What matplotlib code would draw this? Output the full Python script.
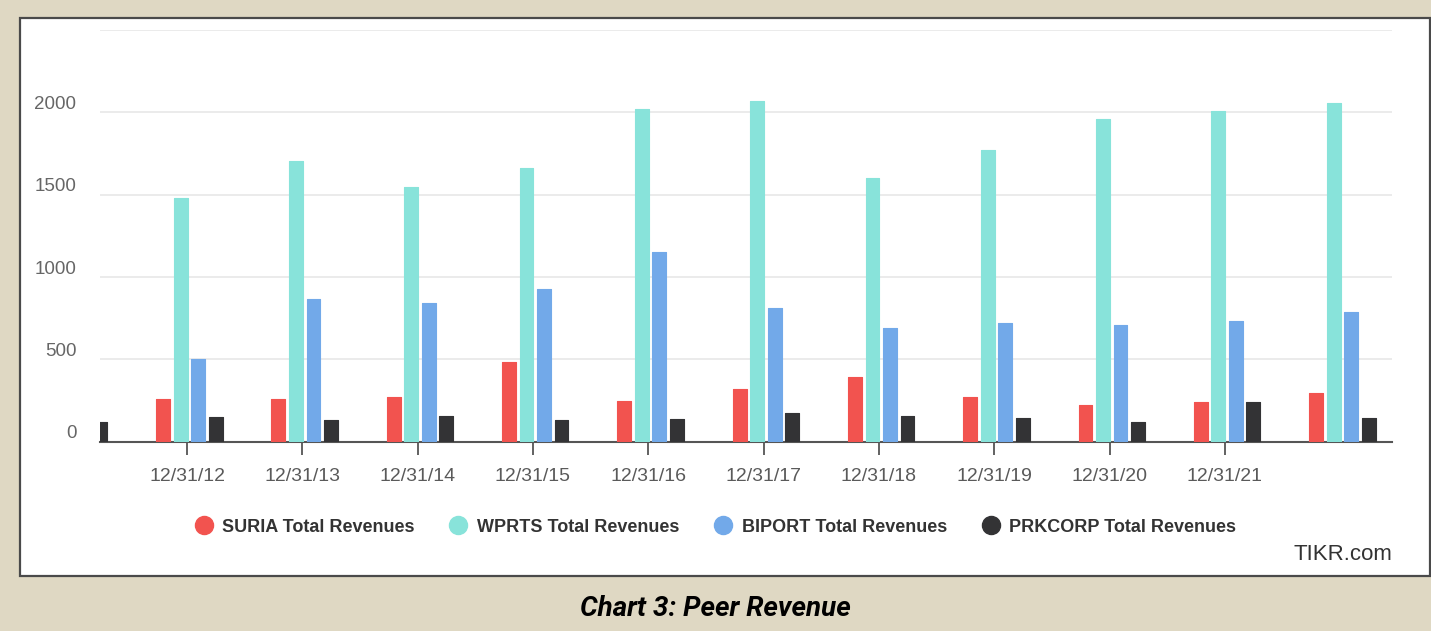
import numpy as np
import matplotlib
matplotlib.use("Agg")
import matplotlib.pyplot as plt
from matplotlib.patches import Rectangle
from matplotlib.transforms import ScaledTranslation

# periods shown in the TIKR chart (first one is clipped at the left, last is LTM)
periods = ['12/31/11', '12/31/12', '12/31/13', '12/31/14', '12/31/15', '12/31/16',
           '12/31/17', '12/31/18', '12/31/19', '12/31/20', '12/31/21', 'LTM']
tick_labels = ['12/31/12', '12/31/13', '12/31/14', '12/31/15', '12/31/16',
               '12/31/17', '12/31/18', '12/31/19', '12/31/20', '12/31/21']

suria = [np.nan, 260, 260, 270, 487, 250, 321, 390, 270, 223, 243, 298]
wprts = [np.nan, 1481, 1704, 1548, 1664, 2023, 2069, 1603, 1769, 1962, 2009, 2054]
biport = [np.nan, 503, 868, 842, 928, 1150, 809, 690, 720, 710, 730, 785]
prkcorp = [122, 152, 132, 158, 132, 138, 177, 156, 142, 122, 243, 142]

series_names = ['SURIA Total Revenues', 'WPRTS Total Revenues',
                'BIPORT Total Revenues', 'PRKCORP Total Revenues']
colors = ['#f2534f', '#88e3da', '#72a9e9', '#333335']

plt.rcParams['font.family'] = ['Liberation Sans', 'DejaVu Sans']

fig = plt.figure(figsize=(14.31, 6.31), dpi=100)
fig.patch.set_facecolor('#dfd8c3')

# white panel with dark border
W, H = 1431, 631
panel = Rectangle((20 / W, (H - 576) / H), 1410 / W, 558 / H, transform=fig.transFigure,
                  facecolor='white', edgecolor='#4a4a4a', linewidth=1.6, zorder=-5)
fig.patches.append(panel)

ax = fig.add_axes([100 / W, (H - 441.7) / H, 1292 / W, 411.7 / H], zorder=2)
ax.set_facecolor('none')

x = np.arange(len(periods))
step = 0.152
width = 0.12
for k, (vals, c, name) in enumerate(zip([suria, wprts, biport, prkcorp], colors, series_names)):
    ax.bar(x + (k - 1.5) * step + 0.02, vals, width=width, color=c, edgecolor=c,
           linewidth=0.8, joinstyle='round', label=name, zorder=3)

ax.set_xlim(0.245, 11.45)
ax.set_ylim(0, 2500)
ax.set_yticks([0, 500, 1000, 1500, 2000, 2500])
ax.set_yticklabels(['0', '500', '1000', '1500', '2000', ''])
ax.grid(axis='y', color='#e8e8e8', linewidth=1.2, zorder=0)
ax.set_axisbelow(True)

ax.set_xticks([periods.index(t) for t in tick_labels])
ax.set_xticklabels(tick_labels)

for s in ['top', 'right', 'left']:
    ax.spines[s].set_visible(False)
ax.spines['bottom'].set_color('#555555')
ax.spines['bottom'].set_linewidth(1.5)

ax.tick_params(axis='x', length=9, width=1.3, color='#555555', pad=10,
               labelsize=14, labelcolor='#5a5a5a')
ax.tick_params(axis='y', length=0, pad=17, labelsize=13.5, labelcolor='#666666')
for lab in ax.get_yticklabels():
    lab.set_transform(lab.get_transform() + ScaledTranslation(0, 0.1, fig.dpi_scale_trans))

# legend with round markers
handles = [plt.Line2D([], [], marker='o', linestyle='', markersize=13,
                      markerfacecolor=c, markeredgecolor=c) for c in colors]
fig.legend(handles, series_names, loc='center', bbox_to_anchor=(0.5, 1 - 527 / H),
           ncol=4, frameon=False, handletextpad=0.55, columnspacing=1.9,
           handlelength=1.0, prop={'weight': 'bold', 'size': 13}, labelcolor='#333333')

fig.text(1392 / W, 1 - 555 / H, 'TIKR.com', ha='right', va='center',
         fontsize=16, color='#333333')

fig.text(0.5, 1 - 608 / H, 'Chart 3: Peer Revenue', ha='center', va='center',
         fontsize=20, fontweight='bold', fontstyle='italic', color='black',
         family=['Roboto', 'DejaVu Sans'])

fig.savefig('out.png', dpi=100, facecolor=fig.get_facecolor())
